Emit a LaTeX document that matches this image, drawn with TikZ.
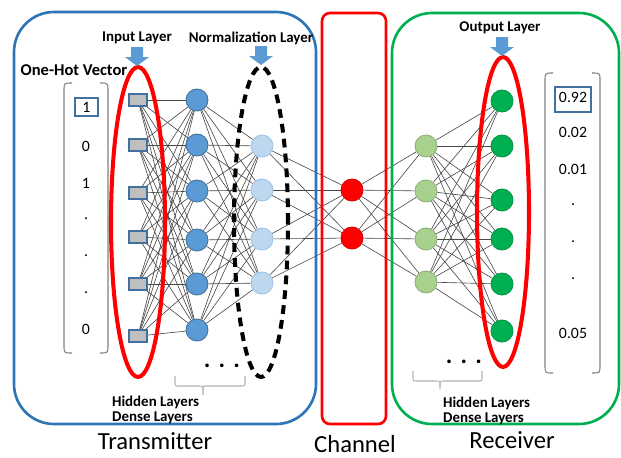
\documentclass[tikz,border=0pt]{standalone}
\usepackage{fontspec}
\setmainfont{Carlito}
\pgfdeclarelayer{background}
\pgfsetlayers{background,main}

\definecolor{txblue}{HTML}{2E75B6}
\definecolor{nodeblue}{HTML}{5B9BD5}
\definecolor{nodeblueedge}{HTML}{41719C}
\definecolor{lightblue}{HTML}{BDD7EE}
\definecolor{lightblueedge}{HTML}{9DC3E6}
\definecolor{lightgreen}{HTML}{A9D18E}
\definecolor{lightgreenedge}{HTML}{8EAF78}
\definecolor{darkgreen}{HTML}{00B050}
\definecolor{squaregray}{HTML}{BFBFBF}

\begin{document}
\begin{tikzpicture}[x=0.02cm,y=-0.02cm,
  bigbox/.style={line width=1.5pt, rounded corners=0.8cm},
  inputsq/.style={rectangle, fill=squaregray, draw=nodeblueedge, line width=0.6pt,
    minimum width=0.36cm, minimum height=0.24cm, inner sep=0pt},
  neuron/.style={circle, minimum size=0.44cm, inner sep=0pt, line width=0.5pt},
  txneuron/.style={neuron, fill=nodeblue, draw=nodeblueedge},
  normneuron/.style={neuron, fill=lightblue, draw=lightblueedge},
  chneuron/.style={neuron, fill=red, draw=red!85!black},
  rxneuron/.style={neuron, fill=lightgreen, draw=lightgreenedge},
  outneuron/.style={neuron, fill=darkgreen, draw=darkgreen!85!black},
  conn/.style={draw=black!72, line width=0.35pt},
  layerloop/.style={draw=red, line width=2.3pt},
  normloop/.style={draw=black, line width=2.3pt, dash pattern=on 5pt off 3.5pt},
  downarrow/.style={fill=nodeblue},
  layerlabel/.style={font=\fontsize{8.5}{10}\selectfont\bfseries, inner sep=1pt},
  sectionlabel/.style={font=\fontsize{14}{16}\selectfont, inner sep=1pt},
  vecentry/.style={font=\fontsize{9}{11}\selectfont, inner sep=1pt},
  valbox/.style={draw=nodeblueedge, line width=0.8pt},
  vecbracket/.style={draw=black!50, line width=0.6pt},
  hbrace/.style={draw=black!30, line width=0.6pt},
  dotsmark/.style={font=\fontsize{14}{16}\selectfont\bfseries, inner sep=0pt}
]
\useasboundingbox (0,0) rectangle (621,457);

% --- section frames ---
\draw[bigbox, draw=txblue] (14,12) rectangle (316,424);
\draw[line width=1.5pt, rounded corners=0.16cm, draw=red] (322,13) rectangle (386,424);
\draw[bigbox, draw=darkgreen] (392,13) rectangle (619,424);

% --- transmitter neurons ---
\foreach \y [count=\i] in {100,145,193,237,284,336}
  \node[inputsq] (in\i) at (138,\y) {};
\foreach \y [count=\i] in {100,145,191,240,284,330}
  \node[txneuron] (h\i) at (197,\y) {};
\foreach \y [count=\i] in {146,190,239,283}
  \node[normneuron] (nm\i) at (262,\y) {};

% --- channel neurons ---
\foreach \y [count=\i] in {190,238}
  \node[chneuron] (ch\i) at (352,\y) {};

% --- receiver neurons ---
\foreach \y [count=\i] in {146,191,239,282}
  \node[rxneuron] (rh\i) at (426,\y) {};
\foreach \y [count=\i] in {101,146,200,239,284,331}
  \node[outneuron] (out\i) at (502,\y) {};

% --- dense connections ---
\begin{pgfonlayer}{background}
  \foreach \i in {1,...,6} \foreach \j in {1,...,6}
    \draw[conn] (in\i) -- (h\j);
  \foreach \i in {1,...,6} \foreach \j in {1,...,4}
    \draw[conn] (h\i) -- (nm\j);
  \foreach \i in {1,...,4} \foreach \j in {1,2}
    \draw[conn] (nm\i) -- (ch\j);
  \foreach \i in {1,2} \foreach \j in {1,...,4}
    \draw[conn] (ch\i) -- (rh\j);
  \foreach \i in {1,...,4} \foreach \j in {1,...,6}
    \draw[conn] (rh\i) -- (out\j);
\end{pgfonlayer}

% --- layer outlines ---
\draw[layerloop] (138,222) ellipse [x radius=0.54cm, y radius=3.1cm];
\draw[normloop] (261,222) ellipse [x radius=0.54cm, y radius=3.1cm];
\draw[layerloop] (503,212) ellipse [x radius=0.52cm, y radius=3.1cm];

% --- pointer arrows ---
\fill[downarrow] (131,47) -- (143,47) -- (143,57) -- (149,57) -- (137,66)
  -- (125,57) -- (131,57) -- cycle;
\fill[downarrow] (255,46) -- (267,46) -- (267,56) -- (273,56) -- (261,65)
  -- (249,56) -- (255,56) -- cycle;
\fill[downarrow] (496,37) -- (508,37) -- (508,47) -- (514,47) -- (502,56)
  -- (490,47) -- (496,47) -- cycle;

% --- layer captions ---
\node[layerlabel] (lblin) at (137,38) {Input Layer};
\node[layerlabel] (lblnorm) at (251,38) {Normalization Layer};
\node[layerlabel] (lblout) at (500,28) {Output Layer};
\node[font=\fontsize{9.4}{11}\selectfont\bfseries, inner sep=1pt] (lblhot) at (74,70) {One-Hot Vector};

% --- one-hot input vector ---
\draw[vecbracket] (72,83) .. controls (64,83) .. (64,91) -- (64,345)
  .. controls (64,353) .. (72,353);
\draw[vecbracket] (100,83) .. controls (108,83) .. (108,91) -- (108,345)
  .. controls (108,353) .. (100,353);
\draw[valbox] (75,98) rectangle (98,116);
\node[vecentry] (v1) at (86.5,107) {1};
\node[vecentry] (v2) at (86,146) {0};
\node[vecentry] (v3) at (86,183) {1};
\node[vecentry] (v4) at (86,219) {.};
\node[vecentry] (v5) at (86,256) {.};
\node[vecentry] (v6) at (86,293) {.};
\node[vecentry] (v7) at (86,329) {0};

% --- output probability vector ---
\draw[vecbracket] (553,73) .. controls (545,73) .. (545,81) -- (545,365)
  .. controls (545,373) .. (553,373);
\draw[vecbracket] (592,73) .. controls (600,73) .. (600,81) -- (600,365)
  .. controls (600,373) .. (592,373);
\draw[valbox] (555,87) rectangle (591,112);
\node[vecentry] (p1) at (573,97) {0.92};
\node[vecentry] (p2) at (573,132) {0.02};
\node[vecentry] (p3) at (573,169) {0.01};
\node[vecentry] (p4) at (573,205) {.};
\node[vecentry] (p5) at (573,242) {.};
\node[vecentry] (p6) at (573,279) {.};
\node[vecentry] (p7) at (573,333) {0.05};

% --- hidden layer braces ---
\node[dotsmark] (dtx) at (222,366) {.\,\,.\,\,.};
\draw[hbrace] (175,376) -- (175,382) .. controls (175,386) .. (179,386) -- (199,386)
  .. controls (203,386) .. (203,390) -- (203,395);
\draw[hbrace] (203,390) .. controls (203,386) .. (207,386) -- (241,386)
  .. controls (245,386) .. (245,382) -- (245,376);
\node[dotsmark] (drx) at (464,362) {.\,\,.\,\,.};
\draw[hbrace] (413,371) -- (413,377) .. controls (413,381) .. (417,381) -- (436,381)
  .. controls (440,381) .. (440,385) -- (440,389);
\draw[hbrace] (440,385) .. controls (440,381) .. (444,381) -- (478,381)
  .. controls (482,381) .. (482,377) -- (482,371);

\node[layerlabel, anchor=west] (hidtx) at (110,402) {Hidden Layers};
\node[layerlabel, anchor=west] (dentx) at (110,418) {Dense Layers};
\node[layerlabel, anchor=west] (hidrx) at (441,403) {Hidden Layers};
\node[layerlabel, anchor=west] (denrx) at (441,419) {Dense Layers};

% --- section titles ---
\node[sectionlabel] (ttx) at (155,441) {Transmitter};
\node[sectionlabel] (tch) at (355,444) {Channel};
\node[sectionlabel] (trx) at (512,440) {Receiver};
\end{tikzpicture}
\end{document}
